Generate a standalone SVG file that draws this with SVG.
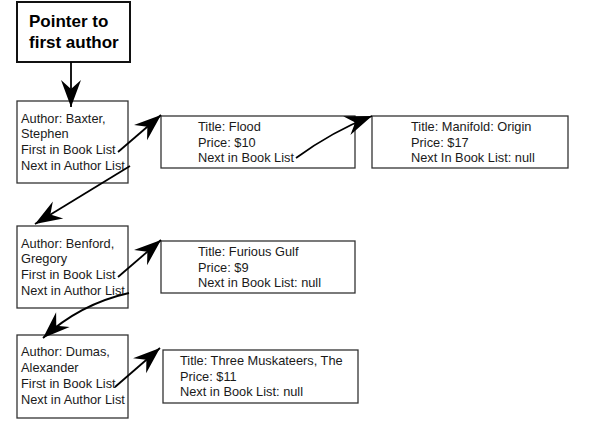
<svg xmlns="http://www.w3.org/2000/svg" width="604" height="426" viewBox="0 0 604 426">
<style>
.box{fill:#fff;stroke:#333;stroke-width:1.3}
.pbox{fill:#fff;stroke:#111;stroke-width:2}
.t{font-family:"Liberation Sans",Arial,sans-serif;font-size:12.8px;fill:#1a1a1a}
.pt{font-family:"Liberation Sans",Arial,sans-serif;font-size:17px;font-weight:bold;fill:#000}
.c{fill:none;stroke:#000;stroke-width:1.8;marker-end:url(#ah)}
</style>
<defs>
<marker id="ah" markerUnits="userSpaceOnUse" viewBox="-32 -14 34 28" markerWidth="34" markerHeight="28" refX="0" refY="0" orient="auto">
<path d="M0,0 L-27,-10 L-18,0 L-27,10 Z" fill="#000"/>
</marker>
</defs>
<rect width="604" height="426" fill="#fff"/>
<g id="pointer">
<rect class="pbox" x="17" y="2" width="113" height="60"/>
<text class="pt" x="29" y="27">Pointer to</text>
<text class="pt" x="29" y="48">first author</text>
</g>
<g id="author-baxter">
<rect class="box" x="17" y="101" width="111" height="82"/>
<text class="t" x="21" y="123">Author: Baxter,</text>
<text class="t" x="21" y="138">Stephen</text>
<text class="t" x="21" y="154">First in Book List</text>
<text class="t" x="21" y="170">Next in Author List</text>
</g>
<g id="book-flood">
<rect class="box" x="161" y="116" width="194" height="52"/>
<text class="t" x="198" y="131">Title: Flood</text>
<text class="t" x="198" y="147">Price: $10</text>
<text class="t" x="198" y="162">Next in Book List</text>
</g>
<g id="book-manifold">
<rect class="box" x="372" y="116" width="196" height="52"/>
<text class="t" x="411" y="131">Title: Manifold: Origin</text>
<text class="t" x="411" y="147">Price: $17</text>
<text class="t" x="411" y="162">Next In Book List: null</text>
</g>
<g id="author-benford">
<rect class="box" x="17" y="226" width="111" height="82"/>
<text class="t" x="21" y="248">Author: Benford,</text>
<text class="t" x="21" y="263">Gregory</text>
<text class="t" x="21" y="279">First in Book List</text>
<text class="t" x="21" y="295">Next in Author List</text>
</g>
<g id="book-furious">
<rect class="box" x="161" y="241" width="194" height="52"/>
<text class="t" x="198" y="256">Title: Furious Gulf</text>
<text class="t" x="198" y="272">Price: $9</text>
<text class="t" x="198" y="287">Next in Book List: null</text>
</g>
<g id="author-dumas">
<rect class="box" x="17" y="335" width="111" height="83"/>
<text class="t" x="21" y="356">Author: Dumas,</text>
<text class="t" x="21" y="372">Alexander</text>
<text class="t" x="21" y="388">First in Book List</text>
<text class="t" x="21" y="404">Next in Author List</text>
</g>
<g id="book-three">
<rect class="box" x="163" y="350" width="195" height="53"/>
<text class="t" x="180" y="365">Title: Three Muskateers, The</text>
<text class="t" x="180" y="381">Price: $11</text>
<text class="t" x="180" y="396">Next in Book List: null</text>
</g>
<g id="connectors">
<path class="c" d="M71,62 L71,107"/>
<path class="c" d="M118,152 L161,115"/>
<path class="c" d="M130,166 L35,224"/>
<path class="c" d="M296,158 Q333,131 372,116"/>
<path class="c" d="M118,277 L161,240"/>
<path class="c" d="M129,293 Q80,304 43,338"/>
<path class="c" d="M115,387 L160,348"/>
</g>
</svg>
